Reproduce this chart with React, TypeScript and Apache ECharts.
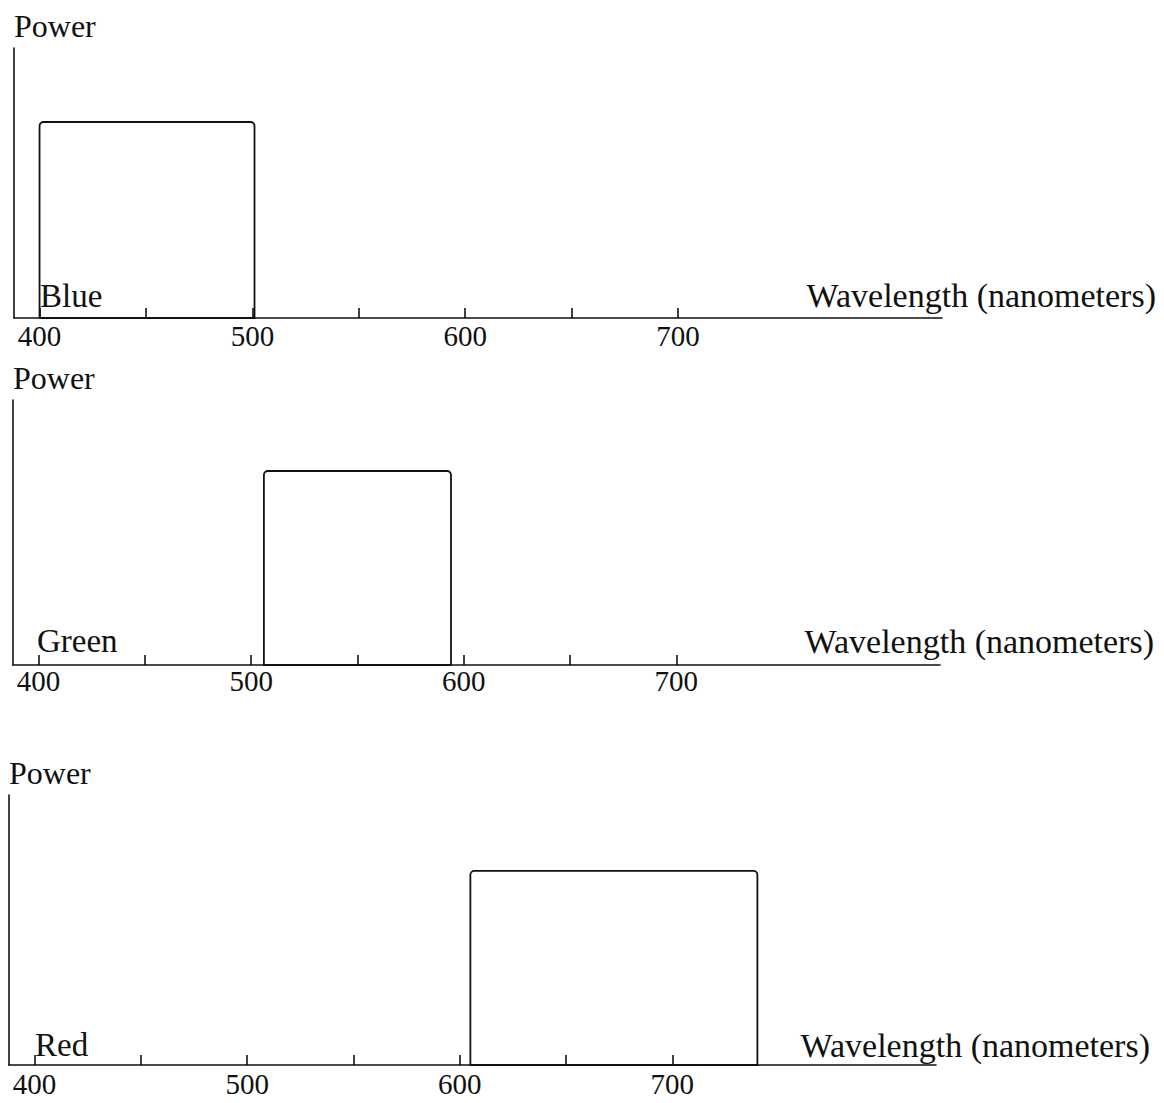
import React, { useEffect, useRef } from "react";
import * as echarts from "echarts";

// ---- data ----
const tickValues = [400, 450, 500, 550, 600, 650, 700];
const labelValues = [400, 500, 600, 700];
const bandNames = ["Blue", "Green", "Red"];
const bandStarts = [400, 506, 605];
const bandEnds = [501, 594, 740];
const bandPower = [0.726, 0.732, 0.719];
const xMin = 388;
const xMax = 824;
const xName = "Wavelength (nanometers)";
const yName = "Power";

// ---- layout (styles) ----
const grids = [
  { left: 14, top: 48, width: 928, height: 270 },
  { left: 13, top: 400, width: 927, height: 265 },
  { left: 9, top: 795, width: 927, height: 270 },
];
const bandLabelPos = [
  { x: 40, y: 279 },
  { x: 37, y: 624 },
  { x: 35, y: 1028 },
];
const xNameGap = [214, 214, 214];
const xNameLift = [6, 7, 3];
const labelMargin = [3, 1, 4];

const FONT = "'Liberation Serif', 'Times New Roman', serif";
const INK = "#111";

export default function App() {
  const ref = useRef<HTMLDivElement>(null);

  useEffect(() => {
    if (!ref.current) return;
    const chart = echarts.init(ref.current, undefined, { renderer: "svg" });

    const xAxis = grids.map((_, i) => ({
      type: "value",
      gridIndex: i,
      min: xMin,
      max: xMax,
      name: xName,
      nameLocation: "end",
      nameGap: xNameGap[i],
      nameTextStyle: {
        fontFamily: FONT,
        fontSize: 34,
        color: INK,
        align: "right",
        verticalAlign: "bottom",
        padding: [0, 0, xNameLift[i], 0],
      },
      axisLine: { show: true, onZero: false, lineStyle: { color: INK, width: 1.6 } },
      axisTick: {
        show: true,
        inside: true,
        length: 10,
        customValues: tickValues,
        lineStyle: { color: INK, width: 1.6 },
      },
      axisLabel: {
        show: true,
        customValues: labelValues,
        fontFamily: FONT,
        fontSize: 29,
        color: INK,
        margin: labelMargin[i],
      },
      splitLine: { show: false },
    }));

    const yAxis = grids.map((_, i) => ({
      type: "value",
      gridIndex: i,
      min: 0,
      max: 1,
      name: yName,
      nameLocation: "end",
      nameGap: 6,
      nameTextStyle: {
        fontFamily: FONT,
        fontSize: 32,
        color: INK,
        align: "left",
      },
      axisLine: { show: true, onZero: false, lineStyle: { color: INK, width: 1.6 } },
      axisTick: { show: false },
      axisLabel: { show: false },
      splitLine: { show: false },
    }));

    const series = bandNames.map((name, i) => ({
      type: "custom",
      name,
      xAxisIndex: i,
      yAxisIndex: i,
      encode: { x: [0, 1], y: 2 },
      data: [[bandStarts[i], bandEnds[i], bandPower[i]]],
      renderItem: (params: any, api: any) => {
        const p0 = api.coord([api.value(0), api.value(2)]);
        const p1 = api.coord([api.value(1), 0]);
        return {
          type: "rect",
          shape: {
            x: p0[0],
            y: p0[1],
            width: p1[0] - p0[0],
            height: p1[1] - p0[1],
            r: [4, 4, 0, 0],
          },
          style: { fill: "none", stroke: INK, lineWidth: 1.8 },
        };
      },
    }));

    const graphic = bandNames.map((name, i) => ({
      type: "text",
      x: bandLabelPos[i].x,
      y: bandLabelPos[i].y,
      style: {
        text: name,
        font: `33px ${FONT}`,
        fill: INK,
        verticalAlign: "top",
      },
    }));

    chart.setOption({
      animation: false,
      backgroundColor: "#fff",
      grid: grids.map((g) => ({ ...g, containLabel: false })),
      xAxis,
      yAxis,
      series,
      graphic,
    } as any);

    return () => chart.dispose();
  }, []);

  return (
    <div
      ref={ref}
      style={{ position: "fixed", left: 0, top: 0, width: 1164, height: 1103 }}
    />
  );
}
